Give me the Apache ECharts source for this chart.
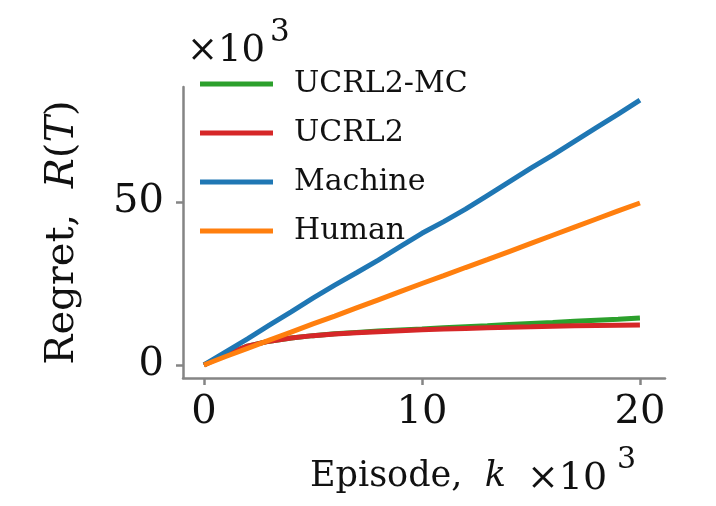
<!DOCTYPE html>
<html>
<head>
<meta charset="utf-8">
<script src="https://cdn.jsdelivr.net/npm/echarts@6/dist/echarts.min.js"></script>
<style>
html, body { margin: 0; padding: 0; background: #fff; }
#main { width: 716px; height: 506px; }
</style>
</head>
<body>
<div id="main"></div>
<script>
// episodes (x 10^3)
var episodes = [0, 1, 2, 3, 4, 5, 6, 7, 8, 9, 10, 11, 12, 13, 14, 15, 16, 17, 18, 19, 20];
// regret (x 10^3)
var ucrl2mc = [0, 3.2, 5.8, 7.3, 8.3, 9.0, 9.6, 10.0, 10.4, 10.7, 11.0, 11.4, 11.7, 12.0, 12.4, 12.7, 13.0, 13.4, 13.7, 14.0, 14.4];
var ucrl2   = [0, 3.2, 5.8, 7.3, 8.3, 9.0, 9.5, 9.9, 10.2, 10.5, 10.8, 11.0, 11.2, 11.4, 11.6, 11.7, 11.9, 12.0, 12.1, 12.2, 12.3];
var machine = [0, 4.0, 8.0, 12.2, 16.3, 20.5, 24.5, 28.3, 32.2, 36.3, 40.4, 44.0, 47.8, 52.0, 56.2, 60.4, 64.4, 68.6, 72.8, 77.0, 81.3];
var human   = [0, 2.6, 5.1, 7.6, 10.1, 12.6, 15.0, 17.5, 20.0, 22.5, 25.0, 27.4, 29.9, 32.3, 34.8, 37.3, 39.8, 42.3, 44.8, 47.3, 49.7];
var xTicks = [0, 10, 20];
var yTicks = [0, 50];

var serif = 'DejaVu Serif';
var ink = '#111';
var axisGray = '#858585';

function pairs(ys) {
    return episodes.map(function (x, i) { return [x, ys[i]]; });
}

var myChart = echarts.init(document.getElementById('main'));
var option = {
    backgroundColor: '#fff',
    animation: false,
    grid: { left: 183, right: 51, top: 87, bottom: 128 },
    legend: {
        orient: 'vertical',
        left: 195,
        top: 64,
        icon: 'rect',
        itemWidth: 73,
        itemHeight: 5,
        itemGap: 19,
        textStyle: { fontFamily: serif, fontSize: 30, color: ink, lineHeight: 30, padding: [0, 0, 0, 16] },
        data: ['UCRL2-MC', 'UCRL2', 'Machine', 'Human']
    },
    xAxis: {
        type: 'value',
        min: -0.96,
        max: 21.15,
        splitLine: { show: false },
        axisLine: { onZero: false, lineStyle: { color: axisGray, width: 2.5 } },
        axisTick: { customValues: xTicks, length: 7, lineStyle: { color: axisGray, width: 2.5 } },
        axisLabel: { customValues: xTicks, margin: 15, fontFamily: serif, fontSize: 40, color: ink }
    },
    yAxis: {
        type: 'value',
        min: -4,
        max: 85.3,
        splitLine: { show: false },
        axisLine: { show: true, onZero: false, lineStyle: { color: axisGray, width: 2.5 } },
        axisTick: { show: true, customValues: yTicks, length: 7, lineStyle: { color: axisGray, width: 2.5 } },
        axisLabel: { customValues: yTicks, margin: 19, fontFamily: serif, fontSize: 40, color: ink },
        name: '{n|Regret,  }{i|R}{n|(}{i|T}{n|)}',
        nameLocation: 'middle',
        nameGap: 100,
        nameRotate: 90,
        nameTextStyle: {
            fontFamily: serif, fontSize: 40, color: ink,
            rich: {
                n: { fontFamily: serif, fontSize: 40, color: ink },
                i: { fontFamily: serif, fontSize: 40, color: ink, fontStyle: 'italic' }
            }
        }
    },
    graphic: [
        // y offset text
        { type: 'text', left: 187, top: 33, style: { text: '×10', font: '37px "DejaVu Serif"', fill: ink } },
        { type: 'text', left: 270, top: 17, style: { text: '3', font: '31px "DejaVu Serif"', fill: ink } },
        // x axis label + offset text
        {
            type: 'text', left: 310, top: 459,
            style: {
                text: '{n|Episode,  }{i|k}',
                rich: {
                    n: { fontFamily: serif, fontSize: 35, fill: ink },
                    i: { fontFamily: serif, fontSize: 35, fill: ink, fontStyle: 'italic' }
                }
            }
        },
        { type: 'text', left: 527, top: 460, style: { text: '×10', font: '38px "DejaVu Serif"', fill: ink } },
        { type: 'text', left: 617, top: 445, style: { text: '3', font: '30px "DejaVu Serif"', fill: ink } }
    ],
    series: [
        { name: 'UCRL2-MC', type: 'line', data: pairs(ucrl2mc), showSymbol: false, symbol: 'none',
          color: '#2ca02c', lineStyle: { width: 5 } },
        { name: 'UCRL2', type: 'line', data: pairs(ucrl2), showSymbol: false, symbol: 'none',
          color: '#d62728', lineStyle: { width: 5 } },
        { name: 'Machine', type: 'line', data: pairs(machine), showSymbol: false, symbol: 'none',
          color: '#1f77b4', lineStyle: { width: 5 } },
        { name: 'Human', type: 'line', data: pairs(human), showSymbol: false, symbol: 'none',
          color: '#ff7f0e', lineStyle: { width: 5 } }
    ]
};
myChart.setOption(option);
</script>
</body>
</html>
